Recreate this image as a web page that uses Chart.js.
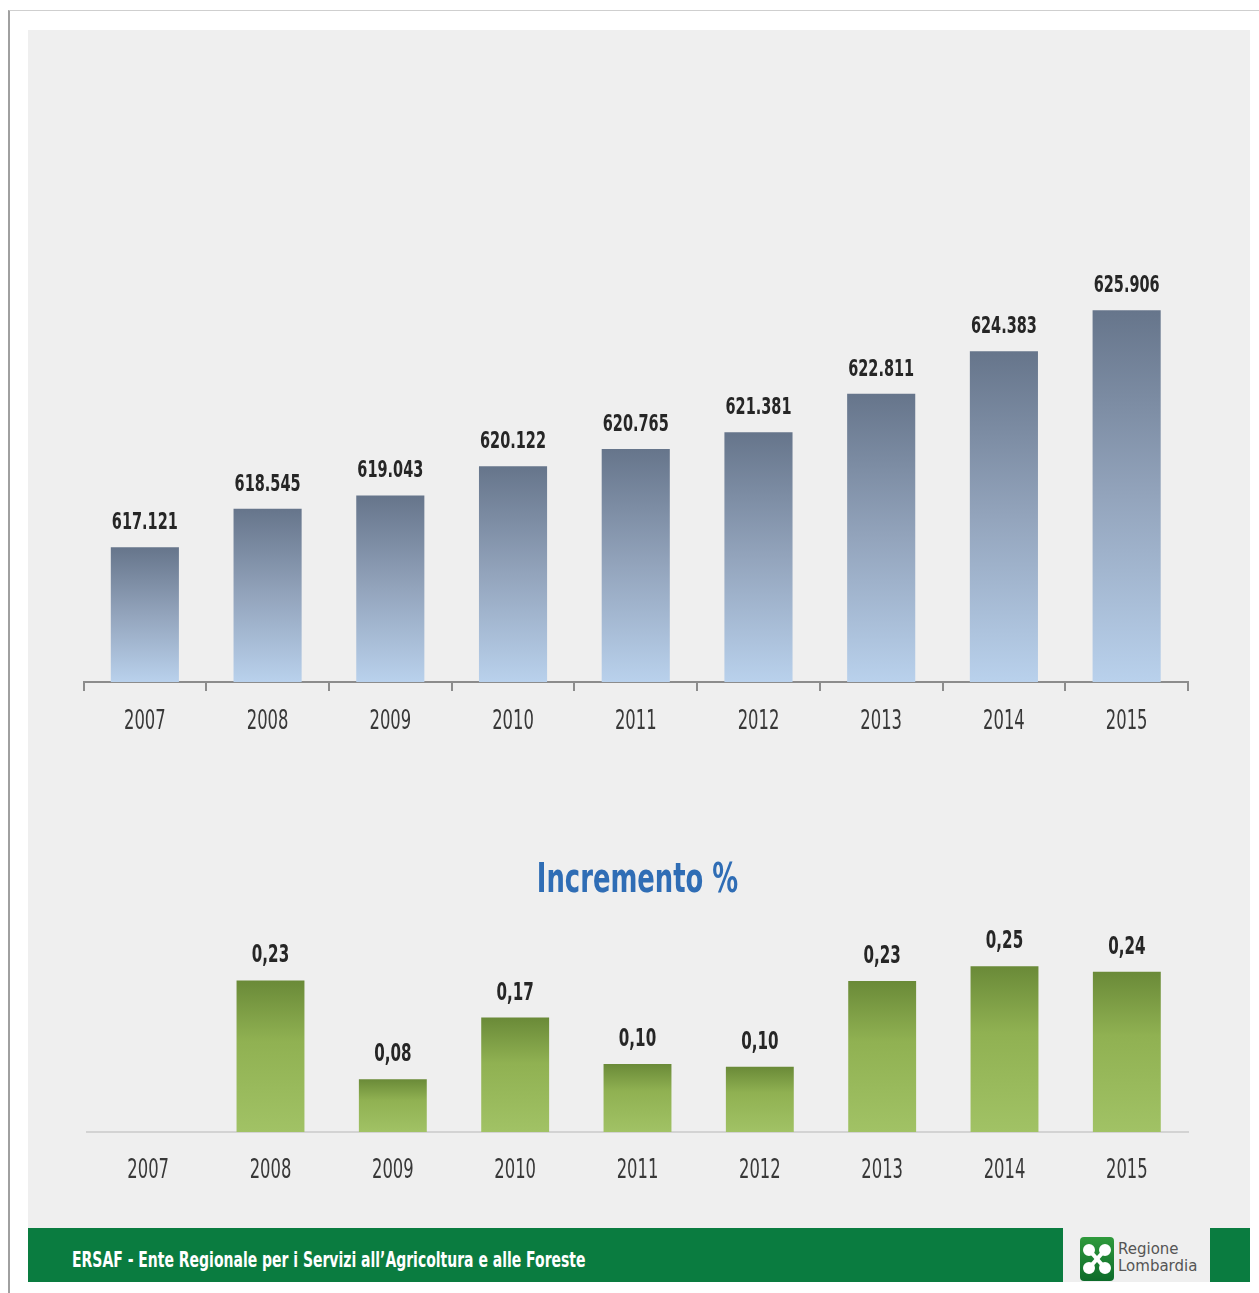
<!DOCTYPE html>
<html>
<head>
<meta charset="utf-8">
<script src="https://cdn.jsdelivr.net/npm/chart.js@4.4.1/dist/chart.umd.min.js"></script>
<style>
  body { margin: 0; width: 1259px; height: 1293px; background: #fff; position: relative; overflow: hidden; }
  #frame { position: absolute; left: 8px; top: 10px; right: 0; bottom: 0; border-left: 2px solid #a0a0a0; border-top: 1px solid #cfcfcf; }
  #panel { position: absolute; left: 28px; top: 30px; width: 1222px; height: 1252px; background: #efefef; }
  #topWrap { position: absolute; left: 28px; top: 250px; }
  #bottomWrap { position: absolute; left: 28px; top: 840px; }
  .band { position: absolute; top: 1228px; height: 54px; background: #0a7c40; }
  #bandText { position: absolute; left: 72px; top: 1250px; color: #fff; font: bold 21px/21px "DejaVu Sans Condensed", sans-serif; white-space: nowrap; transform: scaleX(0.74); transform-origin: 0 0; }
  #logo { position: absolute; left: 1080px; top: 1237px; width: 34px; height: 44px; }
  #logoText { position: absolute; left: 1118px; top: 1241px; color: #555; font: 15px "DejaVu Sans", sans-serif; line-height: 17px; }
</style>
</head>
<body>
<div id="frame"></div>
<div id="panel"></div>
<div id="topWrap"><canvas id="areaChart" width="1222" height="498"></canvas></div>
<div id="bottomWrap"><canvas id="incrChart" width="1222" height="364"></canvas></div>
<div class="band" style="left:28px;width:1035px"></div>
<div class="band" style="left:1210px;width:40px"></div>
<div id="bandText">ERSAF - Ente Regionale per i Servizi all’Agricoltura e alle Foreste</div>
<svg id="logo" viewBox="0 0 34 44">
  <defs>
    <linearGradient id="lg" x1="0" y1="0" x2="0" y2="1">
      <stop offset="0" stop-color="#2f9a3c"/><stop offset="1" stop-color="#0d6b2a"/>
    </linearGradient>
  </defs>
  <rect x="0" y="0" width="34" height="44" rx="4" fill="url(#lg)"/>
  <g fill="#fff" stroke="#fff" stroke-width="4">
    <line x1="10" y1="14" x2="24" y2="30"/>
    <line x1="24" y1="14" x2="10" y2="30"/>
    <circle cx="9" cy="13" r="4"/><circle cx="25" cy="13" r="4"/>
    <circle cx="9" cy="31" r="4"/><circle cx="25" cy="31" r="4"/>
  </g>
</svg>
<div id="logoText">Regione<br>Lombardia</div>

<script>
// ==== data ====
const years = ["2007", "2008", "2009", "2010", "2011", "2012", "2013", "2014", "2015"];
// superficie (valori letti sopra le barre)
const areaValues = [617121, 618545, 619043, 620122, 620765, 621381, 622811, 624383, 625906];
const incrValues = [null, 0.2307, 0.0805, 0.1743, 0.1037, 0.0992, 0.2301, 0.2524, 0.2439];
const incrTitle = "Incremento %";

const FONT = '"DejaVu Sans Condensed", sans-serif';
const SQUEEZE = 0.70; // testo stretto tipo Calibri

function fmtThousands(v) {
  return String(v).replace(/\B(?=(\d{3})+(?!\d))/g, ".");
}
function fmtPct(v) {
  return v.toFixed(2).replace(".", ",");
}

// gradient per barra (scuro in alto, chiaro in basso)
function barGradient(stops) {
  return function (context) {
    const chart = context.chart;
    const area = chart.chartArea;
    if (!area || context.raw == null) return stops[stops.length - 1][1];
    const top = chart.scales.y.getPixelForValue(context.raw);
    const g = chart.ctx.createLinearGradient(0, top, 0, area.bottom);
    stops.forEach(s => g.addColorStop(s[0], s[1]));
    return g;
  };
}

function squeezedText(ctx, text, x, y, font, color, sx) {
  ctx.save();
  ctx.font = font;
  ctx.fillStyle = color;
  ctx.textAlign = "center";
  ctx.textBaseline = "alphabetic";
  ctx.translate(x, y);
  ctx.scale(sx, 1);
  ctx.fillText(text, 0, 0);
  ctx.restore();
}

// etichette valori, etichette asse x e titolo, testo stretto
function textPlugin(cfg) {
  return {
    id: "squeezedTexts",
    afterDraw(chart) {
      const ctx = chart.ctx;
      const data = chart.data.datasets[0].data;
      const xs = chart.scales.x;
      const area = chart.chartArea;
      chart.getDatasetMeta(0).data.forEach((bar, i) => {
        if (data[i] == null) return;
        squeezedText(ctx, cfg.format(data[i]), bar.x, bar.y - 18, "bold " + cfg.valueSize + "px " + FONT, "#262626", SQUEEZE);
      });
      chart.data.labels.forEach((lab, i) => {
        squeezedText(ctx, lab, xs.getPixelForTick(i), area.bottom + cfg.tickOffset, "26px " + FONT, "#383838", SQUEEZE);
      });
      if (cfg.title) {
        squeezedText(ctx, cfg.title, (area.left + area.right) / 2, cfg.titleY, "bold 41px " + FONT, "#2f6db5", SQUEEZE);
      }
    }
  };
}

// ==== grafico superficie ====
new Chart(document.getElementById("areaChart"), {
  type: "bar",
  data: {
    labels: years,
    datasets: [{
      data: areaValues,
      backgroundColor: barGradient([[0, "#66758b"], [0.5, "#93a4bc"], [1, "#b9d1ec"]]),
      barPercentage: 0.555,
      categoryPercentage: 1
    }]
  },
  options: {
    responsive: false,
    animation: false,
    layout: { padding: { left: 55.5, right: 62, top: 0, bottom: 57 } },
    plugins: { legend: { display: false }, tooltip: { enabled: false } },
    scales: {
      x: {
        grid: { display: true, drawOnChartArea: false, drawTicks: true, tickLength: 9, color: "#8c8c8c", lineWidth: 2, offset: true },
        border: { display: true, color: "#8c8c8c", width: 2 },
        ticks: { display: false }
      },
      y: { display: false, min: 612125, max: 628140 }
    }
  },
  plugins: [textPlugin({ format: fmtThousands, valueSize: 23, tickOffset: 47 })]
});

// ==== grafico incremento % ====
new Chart(document.getElementById("incrChart"), {
  type: "bar",
  data: {
    labels: years,
    datasets: [{
      data: incrValues,
      backgroundColor: barGradient([[0, "#6a8a38"], [0.4, "#90b152"], [1, "#a1c265"]]),
      barPercentage: 0.555,
      categoryPercentage: 1
    }]
  },
  options: {
    responsive: false,
    animation: false,
    layout: { padding: { left: 59, right: 62, top: 71, bottom: 72 } },
    plugins: { legend: { display: false }, tooltip: { enabled: false } },
    scales: {
      x: {
        grid: { display: true, drawOnChartArea: false, drawTicks: false },
        border: { display: true, color: "#d3d3d3", width: 2 },
        ticks: { display: false }
      },
      y: { display: false, min: 0, max: 0.3365 }
    }
  },
  plugins: [textPlugin({ format: fmtPct, valueSize: 24, tickOffset: 46, title: incrTitle, titleY: 52 })]
});
</script>
</body>
</html>
